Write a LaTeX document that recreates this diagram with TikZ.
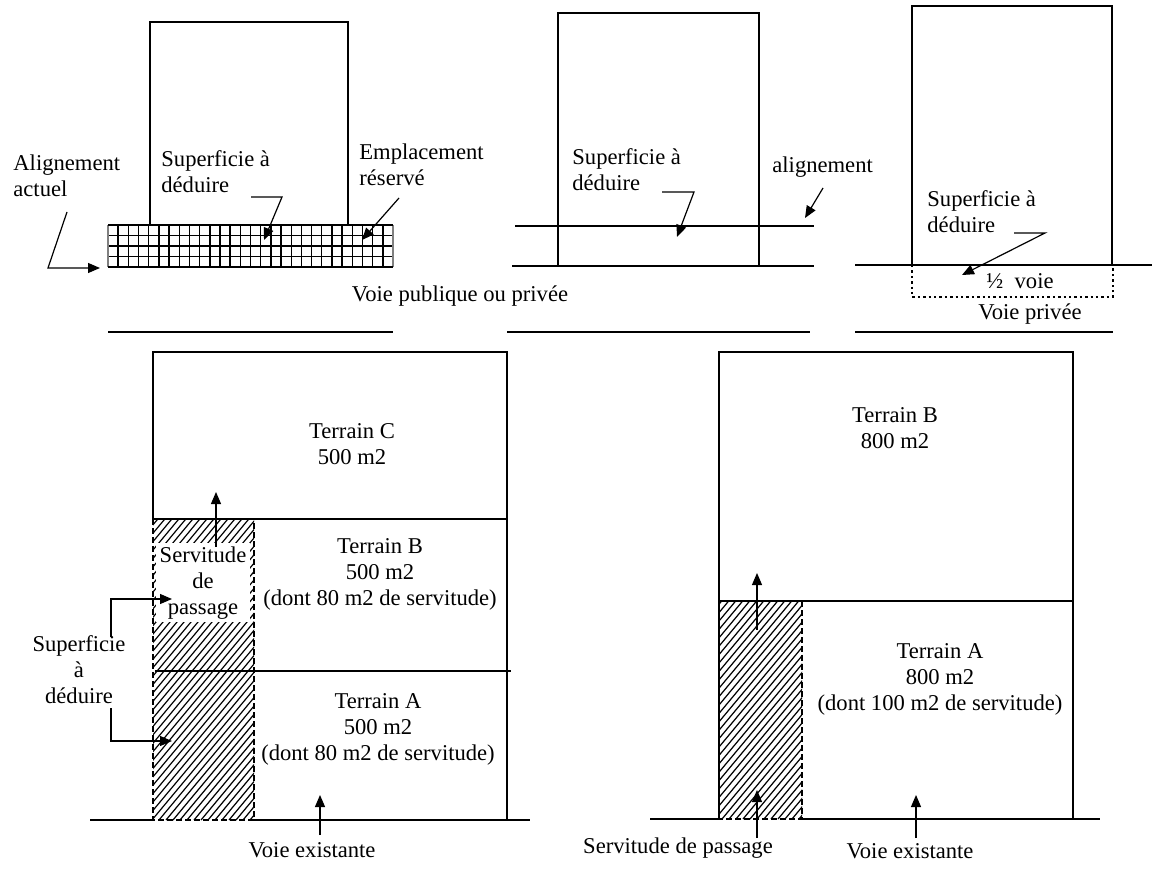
\documentclass[tikz,border=0pt]{standalone}
\usepackage{fontspec}
\setmainfont{Liberation Serif}
\usetikzlibrary{arrows.meta,positioning,calc}

\newcommand{\lblfont}{\fontsize{11.3}{13}\selectfont}

\begin{document}
\begin{tikzpicture}[
  x=0.5pt, y=-0.5pt,
  lbl/.style={font=\lblfont, inner sep=0pt, align=left, anchor=base west},
  ctr/.style={font=\lblfont, inner sep=0pt, align=center, anchor=base},
  wall/.style={line width=1.1pt},
  road/.style={line width=1.1pt},
  thin/.style={line width=0.7pt},
  hatch/.style={line width=0.6pt},
  dashbox/.style={line width=0.9pt, dash pattern=on 3pt off 1.5pt},
  dotbox/.style={line width=1pt, dash pattern=on 1.2pt off 1.5pt},
  arr/.style={-{Triangle[length=6pt,width=5pt]}, line width=0.6pt}
]
\useasboundingbox (0,0) rectangle (1154,876);

% ---------- panel 1 : emplacement reserve
\draw[wall] (150,225) -- (150,22) -- (348,22) -- (348,225);
\foreach \i in {1,...,27}
  \draw[thin] ({108+\i*10.18},225) -- ({108+\i*10.18},267);
\foreach \j in {1,2,3}
  \draw[thin] (108,{225+\j*10.5}) -- (393,{225+\j*10.5});
\draw[thin, gray] (108,225) -- (108,267) (393,225) -- (393,267);
\draw[road] (108,225) -- (393,225);
\draw[road] (108,267) -- (393,267);
\draw[road] (108,332) -- (393,332);

% multi-line labels sit on the baseline of their last line
\node[lbl] (alact) at (13,197) {Alignement\\actuel};
\node[lbl] (sup1) at (161,193) {Superficie à\\déduire};
\node[lbl] (empl) at (359,186) {Emplacement\\réservé};
\node[ctr] (voie1) at (460,302) {Voie publique ou privée};

\coordinate (a1) at (67,212);
\coordinate (a2) at (48,268);
\coordinate (a3) at (100,268);
\draw[arr] (a1) -- (a2) -- (a3);
\coordinate (s1a) at (251,197);
\coordinate (s1b) at (282,197);
\coordinate (s1c) at (264,240);
\draw[arr] (s1a) -- (s1b) -- (s1c);
\coordinate (e1a) at (399,198);
\coordinate (e1b) at (362,240);
\draw[arr] (e1a) -- (e1b);

% ---------- panel 2 : alignement
\draw[wall] (558,13) rectangle (759,266);
\draw[road] (515,226) -- (814,226);
\draw[road] (512,266) -- (814,266);
\draw[road] (507,332) -- (810,332);

\node[lbl] (sup2) at (572,191) {Superficie à\\déduire};
\node[lbl] (alig) at (772,173) {alignement};

\coordinate (s2a) at (662,192);
\coordinate (s2b) at (694,192);
\coordinate (s2c) at (677,237);
\draw[arr] (s2a) -- (s2b) -- (s2c);
\coordinate (g2a) at (823,188);
\coordinate (g2b) at (805,218);
\draw[arr] (g2a) -- (g2b);

% ---------- panel 3 : voie privee
\draw[wall] (912,265) -- (912,6) -- (1112,6) -- (1112,265);
\draw[road] (855,265) -- (1152,265);
\draw[dotbox] (912,265) -- (912,297) -- (1113,297) -- (1113,265);
\draw[road] (855,332) -- (1113,332);

\node[lbl] (sup3) at (927,233) {Superficie à\\déduire};
\node[ctr] (demi) at (1020,289) {½\enspace voie};
\node[ctr] (voie3) at (1030,320) {Voie privée};

\coordinate (s3a) at (1014,233);
\coordinate (s3b) at (1045,233);
\coordinate (s3c) at (962,275);
\draw[arr] (s3a) -- (s3b) -- (s3c);

% ---------- panel 4 : terrains A, B, C
\begin{scope}
  \clip (153,519) rectangle (254,820);
  \foreach \k in {-260,-253,...,260}
    \draw[hatch] ({153+\k},820) -- ++(260,-312);
\end{scope}
\draw[wall] (153,519) -- (153,352) -- (507,352) -- (507,820);
\draw[wall] (153,519) -- (507,519);
\draw[thin] (155,671) -- (511,671);
\draw[dashbox] (153,519) -- (153,820) -- (254,820) -- (254,519);
\draw[road] (90,820) -- (153,820);
\draw[road] (254,820) -- (530,820);

\node[ctr, fill=white, inner xsep=2pt, inner ysep=1.5pt] (serv) at (203,614) {Servitude\\de\\passage};
\node[ctr] (sup4) at (79,703) {Superficie\\à\\déduire};
\node[ctr] (terC) at (352,464) {Terrain C\\500 m2};
\node[ctr] (terB) at (380,605) {Terrain B\\500 m2\\(dont 80 m2 de servitude)};
\node[ctr] (terA) at (378,760) {Terrain A\\500 m2\\(dont 80 m2 de servitude)};
\node[ctr] (voie4) at (312,857) {Voie existante};

\coordinate (p4a) at (216,547);
\coordinate (p4b) at (216,492);
\draw[arr] (p4a) -- (p4b);
\coordinate (d4a) at (111,637);
\coordinate (d4b) at (111,599);
\coordinate (d4c) at (172,599);
\draw[arr] (d4a) -- (d4b) -- (d4c);
\coordinate (d4d) at (111,708);
\coordinate (d4e) at (111,741);
\coordinate (d4f) at (172,741);
\draw[arr] (d4d) -- (d4e) -- (d4f);
\coordinate (v4a) at (320,835);
\coordinate (v4b) at (320,795);
\draw[arr] (v4a) -- (v4b);

% ---------- panel 5 : terrains A, B
\begin{scope}
  \clip (719,601) rectangle (802,819);
  \foreach \k in {-200,-193,...,200}
    \draw[hatch] ({719+\k},819) -- ++(200,-240);
\end{scope}
\draw[wall] (719,819) -- (719,352) -- (1073,352) -- (1073,819);
\draw[wall] (719,601) -- (1073,601);
\draw[dashbox] (802,601) -- (802,819) -- (719,819);
\draw[road] (650,819) -- (719,819);
\draw[road] (802,819) -- (1100,819);

\node[ctr] (terB2) at (895,448) {Terrain B\\800 m2};
\node[ctr] (terA2) at (940,710) {Terrain A\\800 m2\\(dont 100 m2 de servitude)};
\node[ctr] (serv2) at (678,853) {Servitude de passage};
\node[ctr] (voie5) at (910,858) {Voie existante};

\coordinate (p5a) at (757,630);
\coordinate (p5b) at (757,573);
\draw[arr] (p5a) -- (p5b);
\coordinate (p5c) at (757,838);
\coordinate (p5d) at (757,790);
\draw[arr] (p5c) -- (p5d);
\coordinate (v5a) at (916,838);
\coordinate (v5b) at (916,795);
\draw[arr] (v5a) -- (v5b);
\end{tikzpicture}
\end{document}
